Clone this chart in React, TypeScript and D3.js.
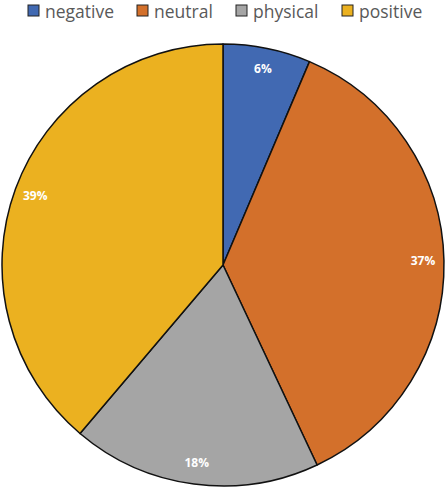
import React, { useEffect, useRef } from "react";
import * as d3 from "d3";

const categories = ["negative", "neutral", "physical", "positive"];
const values = [6.4, 36.6, 18.2, 38.8];
const colors = ["#4169B2", "#D3702B", "#A5A5A5", "#EBB120"];
const legendX = [28, 137, 236, 342];

const App = () => {
  const svgRef = useRef<SVGSVGElement>(null);

  useEffect(() => {
    const width = 446;
    const height = 488;
    const cx = 223;
    const cy = 265;
    const r = 221;

    const svg = d3.select(svgRef.current);
    svg.selectAll("*").remove();

    const data = categories.map((c, i) => ({ id: c, value: values[i], color: colors[i] }));
    const total = d3.sum(values);

    const pie = d3
      .pie<any>()
      .value((d) => d.value)
      .sort(null);
    const arc = d3.arc<any>().innerRadius(0).outerRadius(r);
    const labelArc = d3.arc<any>().innerRadius(200).outerRadius(200);

    const g = svg.append("g").attr("transform", `translate(${cx},${cy})`);
    const arcs = pie(data);

    g.selectAll("path")
      .data(arcs)
      .join("path")
      .attr("d", arc)
      .attr("fill", (d) => d.data.color)
      .attr("stroke", "#111")
      .attr("stroke-width", 1.5)
      .attr("stroke-linejoin", "round");

    g.selectAll("text")
      .data(arcs)
      .join("text")
      .attr("transform", (d) => `translate(${labelArc.centroid(d)})`)
      .attr("text-anchor", "middle")
      .attr("dy", "0.35em")
      .attr("fill", "#fff")
      .style("font", "bold 12px 'Open Sans', sans-serif")
      .text((d) => `${Math.round((d.data.value / total) * 100)}%`);

    // legend
    const legend = svg
      .append("g")
      .selectAll("g")
      .data(data)
      .join("g")
      .attr("transform", (d, i) => `translate(${legendX[i]},5)`);

    legend
      .append("rect")
      .attr("width", 11)
      .attr("height", 11)
      .attr("fill", (d) => d.color)
      .attr("stroke", "#222")
      .attr("stroke-width", 1);

    legend
      .append("text")
      .attr("x", 17)
      .attr("y", 12.5)
      .attr("fill", "#595959")
      .style("font", "17.5px 'Open Sans', sans-serif")
      .text((d) => d.id);

    svg.attr("width", width).attr("height", height);
  }, []);

  return (
    <div style={{ position: "absolute", left: 0, top: 0 }}>
      <svg ref={svgRef} style={{ display: "block" }}></svg>
    </div>
  );
};

export default App;
